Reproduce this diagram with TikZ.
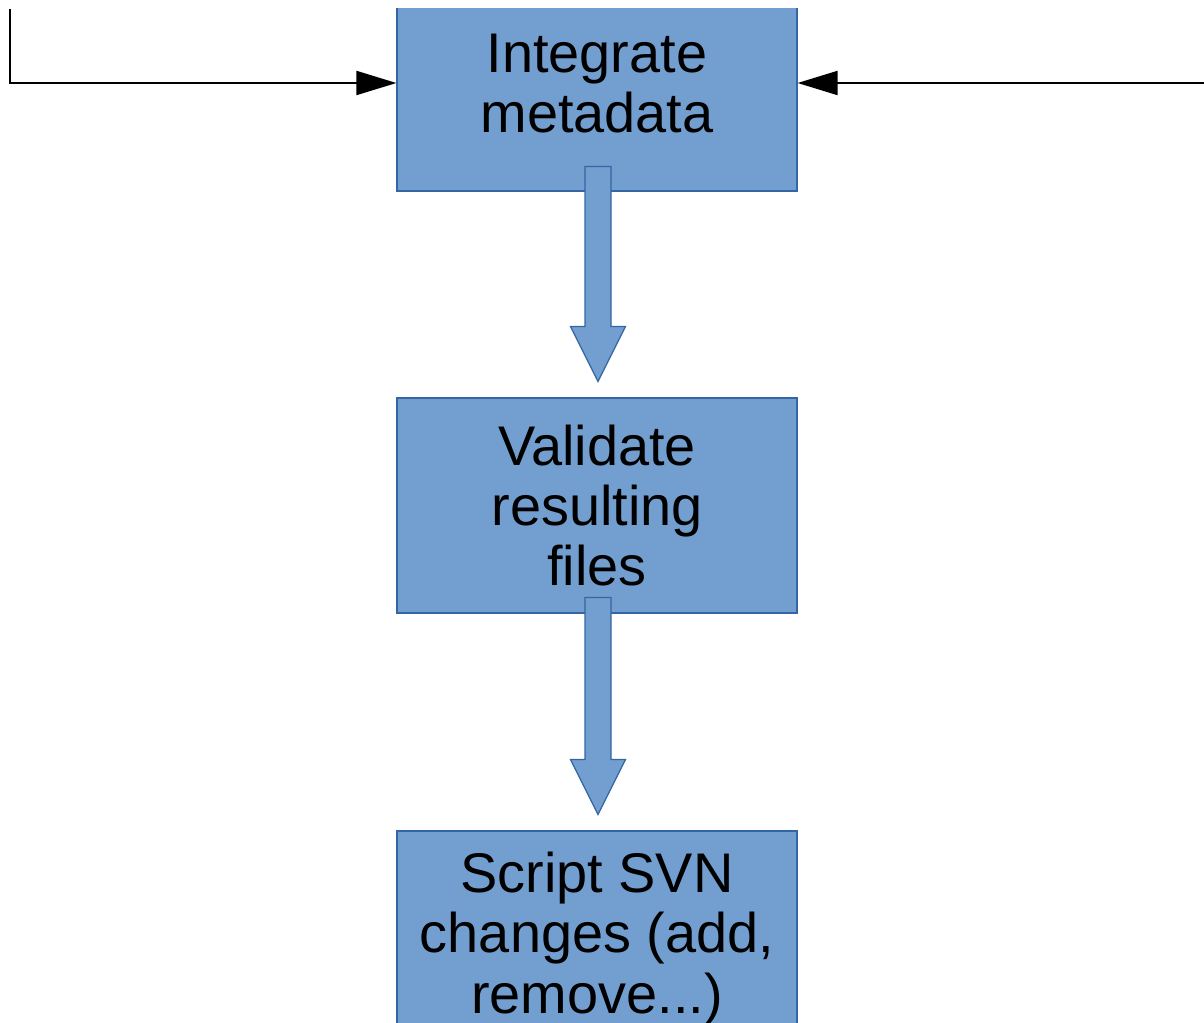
\documentclass[tikz,border=0pt]{standalone}
\usepackage{fontspec}
\setmainfont{Liberation Sans}
\usetikzlibrary{calc,arrows.meta}
\definecolor{boxfill}{HTML}{729FCF}
\definecolor{boxline}{HTML}{3465A4}
\definecolor{ink}{HTML}{000000}
\tikzset{
  task/.style={draw=boxline, fill=boxfill, line width=0.7pt, minimum width=8cm, minimum height=4.3cm,
    inner sep=0pt, align=center, text=ink, font=\fontsize{31.8}{34.2}\selectfont},
  feed/.style={draw=ink, line width=1.1pt, -{Triangle[length=0.8cm,width=0.48cm]}},
  fat/.style={draw=boxline, fill=boxfill, line width=0.7pt, line join=miter},
}
\begin{document}
\begin{tikzpicture}[x=0.02cm, y=-0.02cm]
  \useasboundingbox (0,0) rectangle (1204,1023);
  \clip (0,9) rectangle (1204,1023);
  % process boxes
  \node[task] (integ) at (597,83.5) {Integrate\\metadata};
  \node[task] (valid) at (597,505.5) {Validate\\resulting\\files};
  \node[task] (svn) at (597,938.5) {Script SVN\\changes (add,\\remove...)};
  % incoming lines
  \coordinate (lin) at (10,9);
  \coordinate (lbend) at (10,83);
  \coordinate (rin) at (1204,83);
  \draw[feed] (lin) -- (lbend) -- (integ.west |- lbend);
  \draw[feed] (rin) -- (integ.east |- rin);
  % fat arrows between boxes
  \foreach \a/\b/\o in {integ/valid/25, valid/svn/16} {
    \draw[fat] ($(\a.south)+(-12,-\o)$) -- ($(\a.south)+(14,-\o)$)
      -- ($(\b.north)+(14,-71)$) -- ($(\b.north)+(28.5,-71)$)
      -- ($(\b.north)+(1,-16)$) -- ($(\b.north)+(-26.5,-71)$)
      -- ($(\b.north)+(-12,-71)$) -- cycle;
  }
\end{tikzpicture}
\end{document}
